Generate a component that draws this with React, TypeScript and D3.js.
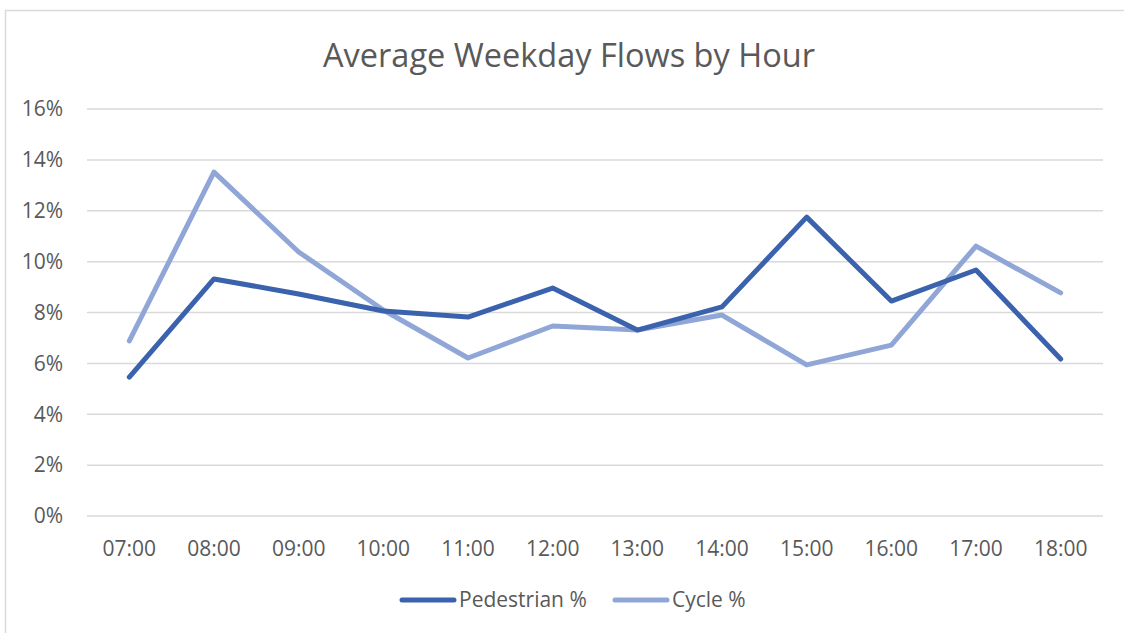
import React, { useEffect, useRef } from 'react'
import * as d3 from 'd3'

const hours = ['07:00', '08:00', '09:00', '10:00', '11:00', '12:00', '13:00', '14:00', '15:00', '16:00', '17:00', '18:00']
const pedestrian = [5.46, 9.32, 8.73, 8.06, 7.82, 8.96, 7.31, 8.22, 11.75, 8.45, 9.67, 6.17]
const cycle = [6.88, 13.52, 10.38, 8.1, 6.21, 7.47, 7.31, 7.9, 5.94, 6.72, 10.61, 8.77]
const yTicks = [0, 2, 4, 6, 8, 10, 12, 14, 16]

const series = [
  { name: 'Pedestrian %', values: pedestrian, color: '#3B62AD' },
  { name: 'Cycle %', values: cycle, color: '#8FA6D7' },
]

const W = 1124
const H = 633
const FONT = '"Open Sans", "Noto Sans", sans-serif'
const TEXT = '#595959'

export default function App() {
  const svgRef = useRef<SVGSVGElement>(null)

  useEffect(() => {
    if (!svgRef.current) return
    const svg = d3.select(svgRef.current)
    svg.selectAll('*').remove()

    const margin = { left: 87, right: 21, top: 109, bottom: 117 }

    // chart frame (cropped on the right / bottom)
    svg.append('rect')
      .attr('x', 5.5).attr('y', 10.5)
      .attr('width', W + 20).attr('height', H + 20)
      .attr('fill', '#fff').attr('stroke', '#d9d9d9').attr('stroke-width', 1.5)

    const x = d3.scaleBand()
      .domain(hours)
      .range([margin.left, W - margin.right])

    const y = d3.scaleLinear()
      .domain([0, 16])
      .range([H - margin.bottom, margin.top])

    svg.append('text')
      .attr('x', 569).attr('y', 67)
      .attr('text-anchor', 'middle')
      .attr('font-family', FONT).attr('font-size', 32.5)
      .attr('fill', TEXT)
      .text('Average Weekday Flows by Hour')

    // gridlines
    svg.append('g').selectAll('line')
      .data(yTicks)
      .enter().append('line')
      .attr('x1', margin.left).attr('x2', W - margin.right)
      .attr('y1', (d) => y(d)).attr('y2', (d) => y(d))
      .attr('stroke', '#d9d9d9').attr('stroke-width', 1.5)

    svg.append('g').selectAll('text')
      .data(yTicks)
      .enter().append('text')
      .attr('x', 63).attr('y', (d) => y(d))
      .attr('dy', '0.35em')
      .attr('text-anchor', 'end')
      .attr('font-family', FONT).attr('font-size', 21)
      .attr('fill', TEXT)
      .text((d) => `${d}%`)

    svg.append('g').selectAll('text')
      .data(hours)
      .enter().append('text')
      .attr('x', (d) => (x(d) || 0) + x.bandwidth() / 2)
      .attr('y', 556)
      .attr('text-anchor', 'middle')
      .attr('font-family', FONT).attr('font-size', 21)
      .attr('fill', TEXT)
      .text((d) => d)

    const line = d3.line<number>()
      .x((_, i) => (x(hours[i]) || 0) + x.bandwidth() / 2)
      .y((d) => y(d))

    // cycle drawn first so pedestrian sits on top
    ;[...series].reverse().forEach((s) => {
      svg.append('path')
        .datum(s.values)
        .attr('d', line)
        .attr('fill', 'none')
        .attr('stroke', s.color)
        .attr('stroke-width', 5)
        .attr('stroke-linecap', 'round')
        .attr('stroke-linejoin', 'round')
    })

    // legend
    const legendX = [400, 613]
    series.forEach((s, i) => {
      const g = svg.append('g').attr('transform', `translate(${legendX[i]},600)`)
      g.append('line')
        .attr('x1', 2).attr('x2', 54)
        .attr('stroke', s.color).attr('stroke-width', 5)
        .attr('stroke-linecap', 'round')
      g.append('text')
        .attr('x', 59).attr('dy', '0.35em')
        .attr('font-family', FONT).attr('font-size', 21)
        .attr('fill', TEXT)
        .text(s.name)
    })
  }, [])

  return (
    <svg
      ref={svgRef}
      width={W}
      height={H}
      style={{ position: 'absolute', left: 0, top: 0, background: '#fff' }}
    />
  )
}
